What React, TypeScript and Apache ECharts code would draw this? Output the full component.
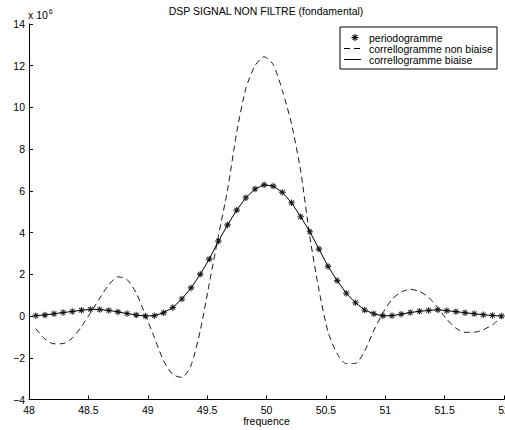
import React, { useEffect, useRef } from "react";
import * as echarts from "echarts";

// frequency grid (Hz)
const frequence = [
  48.057, 48.134, 48.211, 48.288, 48.365, 48.442, 48.518, 48.595, 48.672, 48.749,
  48.826, 48.903, 48.98, 49.057, 49.134, 49.211, 49.288, 49.365, 49.442, 49.518,
  49.595, 49.672, 49.749, 49.826, 49.903, 49.98, 50.057, 50.134, 50.211, 50.288,
  50.365, 50.442, 50.518, 50.595, 50.672, 50.749, 50.826, 50.903, 50.98, 51.057,
  51.134, 51.211, 51.288, 51.365, 51.442, 51.518, 51.595, 51.672, 51.749, 51.826,
  51.903, 51.98,
];

// values in units of 10^6
const periodogramme = [
  0.02, 0.05, 0.11, 0.17, 0.22, 0.28, 0.32, 0.31, 0.27, 0.2,
  0.12, 0.05, 0.0, 0.02, 0.16, 0.41, 0.82, 1.35, 2.0, 2.73,
  3.59, 4.37, 5.08, 5.67, 6.09, 6.29, 6.23, 5.93, 5.43, 4.76,
  4.04, 3.21, 2.38, 1.7, 1.09, 0.64, 0.29, 0.11, 0.01, 0.02,
  0.09, 0.17, 0.23, 0.27, 0.3, 0.26, 0.21, 0.16, 0.11, 0.06,
  0.03, 0.0,
];

const correlloBiaise = [
  0.02, 0.05, 0.11, 0.17, 0.22, 0.28, 0.32, 0.31, 0.27, 0.2,
  0.12, 0.05, 0.0, 0.02, 0.16, 0.41, 0.82, 1.35, 2.0, 2.73,
  3.59, 4.37, 5.08, 5.67, 6.09, 6.29, 6.23, 5.93, 5.43, 4.76,
  4.04, 3.21, 2.38, 1.7, 1.09, 0.64, 0.29, 0.11, 0.01, 0.02,
  0.09, 0.17, 0.23, 0.27, 0.3, 0.26, 0.21, 0.16, 0.11, 0.06,
  0.03, 0.0,
];

const correlloNonBiaise = [
  -0.6, -1.1, -1.33, -1.32, -1.05, -0.5, 0.15, 0.85, 1.5, 1.88,
  1.75, 1.1, 0.05, -1.05, -2.15, -2.8, -2.94, -2.35, -0.7, 1.55,
  3.85, 6.05, 8.8, 10.9, 12.0, 12.43, 12.05, 10.8, 9.2, 6.95,
  3.8, 1.25, -0.75, -1.8, -2.28, -2.27, -1.68, -0.7, 0.15, 0.8,
  1.15, 1.28, 1.18, 0.9, 0.4, -0.15, -0.58, -0.78, -0.78, -0.65,
  -0.42, -0.05,
];

const yTicks = { min: -4, max: 14, interval: 2 };
const xTicks = { min: 48, max: 52, interval: 0.5 };
const xAxisTitle = "frequence";
const chartTitle = "DSP SIGNAL NON FILTRE (fondamental)";

const FONT = "'Liberation Sans', Arial, Helvetica, sans-serif";
const STAR = "path://M5,0L5,10M0,5L10,5M1.5,1.5L8.5,8.5M1.5,8.5L8.5,1.5";

export default function App() {
  const ref = useRef<HTMLDivElement>(null);
  useEffect(() => {
    document.body.style.margin = "0";
    const chart = echarts.init(ref.current!, null, { renderer: "svg" });
    const pts = (ys: number[]) => frequence.map((f, i) => [f, ys[i]]);
    const legendX = 340;
    const legendY = 27;
    const starAt = (cx: number, cy: number, r: number) => {
      const d = r * 0.7;
      const st = { stroke: "#000", lineWidth: 1.1 };
      return [
        { type: "line", shape: { x1: cx - r, y1: cy, x2: cx + r, y2: cy }, style: st },
        { type: "line", shape: { x1: cx, y1: cy - r, x2: cx, y2: cy + r }, style: st },
        { type: "line", shape: { x1: cx - d, y1: cy - d, x2: cx + d, y2: cy + d }, style: st },
        { type: "line", shape: { x1: cx - d, y1: cy + d, x2: cx + d, y2: cy - d }, style: st },
      ];
    };
    chart.setOption({
      animation: false,
      backgroundColor: "#fff",
      textStyle: { fontFamily: FONT, color: "#000" },
      grid: {
        left: 29,
        right: 1,
        top: 24,
        bottom: 30.5,
        containLabel: false,
        outerBoundsMode: "none",
      },
      xAxis: {
        type: "value",
        min: xTicks.min,
        max: xTicks.max,
        interval: xTicks.interval,
        axisLine: { show: true, onZero: false, lineStyle: { color: "#000", width: 1 } },
        axisTick: { show: true, inside: true, length: 4, lineStyle: { color: "#000" } },
        axisLabel: {
          show: true,
          margin: 5,
          fontFamily: FONT,
          fontSize: 10.5,
          color: "#000",
          showMaxLabel: true,
          hideOverlap: false,
          formatter: (v: number) => String(v),
        },
        splitLine: { show: false },
      },
      yAxis: {
        type: "value",
        min: yTicks.min,
        max: yTicks.max,
        interval: yTicks.interval,
        axisLine: { show: true, onZero: false, lineStyle: { color: "#000", width: 1 } },
        axisTick: { show: true, inside: true, length: 4, lineStyle: { color: "#000" } },
        axisLabel: {
          show: true,
          margin: 4,
          fontFamily: FONT,
          fontSize: 10.5,
          color: "#000",
          formatter: (v: number) => (v < 0 ? "\u2212" + Math.abs(v) : String(v)),
        },
        splitLine: { show: false },
      },
      series: [
        {
          name: "correllogramme non biaise",
          type: "line",
          data: pts(correlloNonBiaise),
          showSymbol: false,
          smooth: 0.25,
          lineStyle: { color: "#000", width: 0.9, type: [6, 4] },
          z: 2,
        },
        {
          name: "correllogramme biaise",
          type: "line",
          data: pts(correlloBiaise),
          showSymbol: false,
          lineStyle: { color: "#000", width: 1 },
          z: 3,
        },
        {
          name: "periodogramme",
          type: "scatter",
          data: pts(periodogramme),
          symbol: STAR,
          symbolSize: 6.5,
          itemStyle: { color: "none", borderColor: "#000", borderWidth: 1.1 },
          z: 4,
        },
      ],
      graphic: [
        {
          type: "text",
          x: 266,
          y: 11,
          style: {
            text: chartTitle,
            font: `10.5px ${FONT}`,
            fill: "#000",
            textAlign: "center",
            textVerticalAlign: "middle",
          },
        },
        {
          type: "text",
          x: 266.5,
          y: 421,
          style: {
            text: xAxisTitle,
            font: `10.5px ${FONT}`,
            fill: "#000",
            textAlign: "center",
            textVerticalAlign: "middle",
          },
        },
        {
          type: "text",
          x: 28,
          y: 15,
          style: {
            text: "{b|x 10}{s|6}",
            textVerticalAlign: "middle",
            rich: {
              b: { fontFamily: FONT, fontSize: 10.5, fill: "#000", color: "#000" },
              s: { fontFamily: FONT, fontSize: 7, color: "#000", verticalAlign: "bottom", padding: [0, 0, 7, 1] },
            },
          },
        },
        {
          type: "group",
          z: 100,
          children: [
            {
              type: "rect",
              shape: { x: legendX, y: legendY, width: 157, height: 42 },
              style: { fill: "#fff", stroke: "#000", lineWidth: 1 },
            },
            ...starAt(355, legendY + 10.5, 3.5),
            {
              type: "line",
              shape: { x1: 344, y1: legendY + 21.5, x2: 361, y2: legendY + 21.5 },
              style: { stroke: "#000", lineWidth: 1, lineDash: [6, 4] },
            },
            {
              type: "line",
              shape: { x1: 344, y1: legendY + 32.5, x2: 361, y2: legendY + 32.5 },
              style: { stroke: "#000", lineWidth: 1 },
            },
            {
              type: "text",
              x: 369,
              y: legendY + 10.5,
              style: { text: "periodogramme", font: `10.5px ${FONT}`, fill: "#000", textVerticalAlign: "middle" },
            },
            {
              type: "text",
              x: 369,
              y: legendY + 21.5,
              style: { text: "correllogramme non biaise", font: `10.5px ${FONT}`, fill: "#000", textVerticalAlign: "middle" },
            },
            {
              type: "text",
              x: 369,
              y: legendY + 32.5,
              style: { text: "correllogramme biaise", font: `10.5px ${FONT}`, fill: "#000", textVerticalAlign: "middle" },
            },
          ],
        },
      ],
    });
    return () => chart.dispose();
  }, []);
  return (
    <div
      ref={ref}
      style={{ position: "absolute", left: 0, top: 0, width: 505, height: 430, background: "#fff" }}
    />
  );
}
